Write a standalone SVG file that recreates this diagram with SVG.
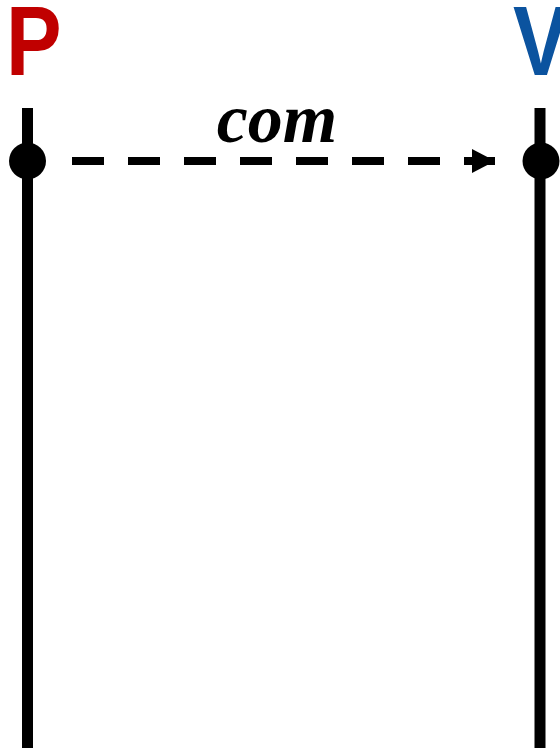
<svg xmlns="http://www.w3.org/2000/svg" width="560" height="748" viewBox="0 0 560 748">
<style>
.lbl{font-family:"Liberation Sans",Arial,sans-serif;font-weight:bold;font-size:98px}
.life{stroke:#000;stroke-width:11;fill:none}
.msg{stroke:#000;stroke-width:8;stroke-dasharray:32 24;fill:none}
.ml{font-family:"Liberation Serif","Times New Roman",serif;font-weight:bold;font-style:italic;font-size:70px;fill:#000}
</style>
<defs>
<marker id="ah" markerUnits="userSpaceOnUse" markerWidth="24" markerHeight="26" refX="23" refY="12" orient="auto">
<path d="M0,0 L23,12 L0,24 Z" fill="#000"/>
</marker>
</defs>
<rect width="560" height="748" fill="#fff"/>
<g id="P">
<text class="lbl" fill="#C00000" transform="translate(6,75) scale(0.85,1)">P</text>
<line class="life" x1="27.5" y1="108" x2="27.5" y2="748"/>
<circle cx="27.5" cy="161" r="18.5" fill="#000"/>
</g>
<g id="V">
<text class="lbl" fill="#0B539F" transform="translate(513,75) scale(0.85,1)">V</text>
<line class="life" x1="540" y1="108" x2="540" y2="748"/>
<circle cx="541" cy="161" r="18.5" fill="#000"/>
</g>
<g id="connectors">
<line class="msg" x1="72" y1="161" x2="495" y2="161" marker-end="url(#ah)"/>
<text class="ml" x="277" y="142" text-anchor="middle">com</text>
</g>
</svg>
